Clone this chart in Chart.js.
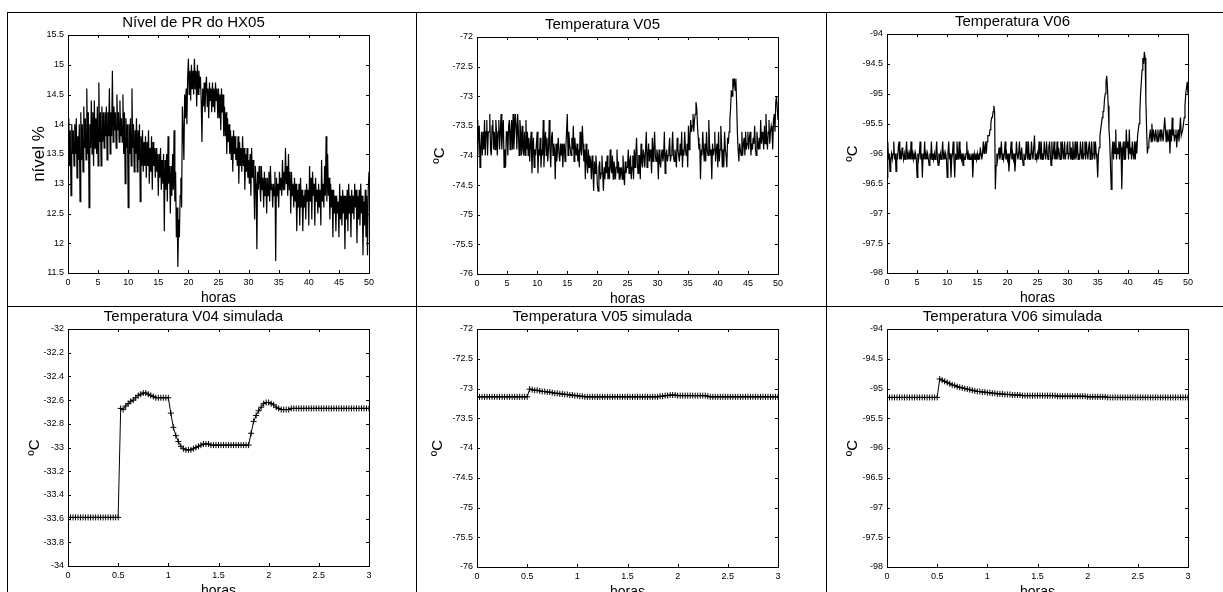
<!DOCTYPE html>
<html>
<head>
<meta charset="utf-8">
<script src="https://cdn.jsdelivr.net/npm/chart.js@4/dist/chart.umd.min.js"></script>
<style>
body { margin: 0; background: #fff; width: 1223px; height: 592px; overflow: hidden; position: relative; }
canvas { position: absolute; }
.hl { position: absolute; height: 1px; background: #000; }
.vl { position: absolute; width: 1px; background: #000; }
</style>
</head>
<body>
<div class="hl" style="left:7px;top:12px;width:1216px"></div>
<div class="hl" style="left:7px;top:306px;width:1216px"></div>
<div class="vl" style="left:7px;top:12px;height:580px"></div>
<div class="vl" style="left:416px;top:12px;height:580px"></div>
<div class="vl" style="left:826px;top:12px;height:580px"></div>
<canvas id="c1"></canvas>
<canvas id="c2"></canvas>
<canvas id="c3"></canvas>
<canvas id="c4"></canvas>
<canvas id="c5"></canvas>
<canvas id="c6"></canvas>
<script>
// medidos: amostra a cada 0.125 h (0..50 h), uma linha por hora
const nivelPR = [
  13.6,14.1,13.3,13.9,12.8,14.0,13.5,13.9,
  13.3,14.0,13.5,14.1,13.1,13.8,13.4,14.0,
  12.7,14.2,13.4,14.0,13.2,14.3,13.6,14.1,
  13.4,14.6,13.5,14.2,12.6,14.0,13.6,14.4,
  13.5,14.2,13.3,14.4,13.6,14.1,13.5,14.3,
  13.3,14.7,13.7,14.2,13.3,14.3,13.7,14.2,
  13.6,14.2,13.8,14.3,13.4,14.2,13.8,14.6,
  13.5,14.2,13.8,14.9,13.7,14.3,13.9,14.2,
  13.6,14.5,13.9,14.2,13.7,14.4,13.8,14.1,
  13.7,14.5,13.5,14.2,13.0,14.1,13.6,14.0,
  12.6,14.0,13.5,14.1,13.3,14.6,13.6,14.0,
  13.2,13.9,13.5,14.1,13.2,13.9,13.4,14.0,
  12.7,13.8,13.3,13.9,13.2,13.7,13.3,13.8,
  13.1,13.7,13.3,13.9,13.0,13.6,13.2,13.8,
  12.9,13.7,13.3,13.6,13.1,13.6,13.2,13.5,
  12.8,13.5,13.1,13.6,12.9,13.4,13.0,13.5,
  12.2,13.4,12.9,13.5,12.7,13.8,13.0,13.3,
  12.5,13.3,12.8,13.5,12.9,13.9,12.7,13.2,
  12.1,12.6,11.6,12.4,12.1,12.8,13.1,12.6,
  14.3,13.9,13.4,14.5,14.1,14.6,14.0,14.8,
  15.1,14.5,14.9,14.4,15.0,14.6,14.9,14.5,
  15.1,14.6,14.9,14.3,15.0,14.5,14.9,14.6,
  14.8,14.4,13.7,14.6,14.3,14.7,14.2,14.6,
  14.8,14.3,14.6,14.1,14.7,14.4,14.6,14.2,
  14.7,14.3,14.6,14.2,14.7,14.4,14.6,14.1,
  14.6,14.1,14.5,13.9,14.6,14.2,14.5,13.8,
  14.3,13.8,14.2,13.5,14.1,13.7,14.0,13.5,
  13.9,13.4,13.8,13.2,13.9,13.5,13.8,13.4,
  13.6,13.3,13.8,13.0,13.7,13.3,13.6,13.2,
  13.8,13.3,13.6,12.9,13.5,13.2,13.6,13.1,
  13.4,13.0,13.5,12.8,13.6,13.1,13.4,13.0,
  12.4,13.3,13.0,11.9,13.2,12.9,13.3,13.0,
  12.7,13.3,12.9,13.1,12.6,13.2,12.8,13.1,
  12.5,13.1,12.8,13.2,12.7,13.3,12.9,13.0,
  12.6,13.0,12.8,13.2,11.7,13.1,12.8,13.0,
  12.6,13.2,12.9,13.1,12.8,13.4,12.9,13.2,
  12.9,13.6,13.0,13.3,12.8,13.5,12.9,13.2,
  12.5,13.2,12.8,13.0,12.6,13.1,12.7,13.0,
  12.2,12.9,12.6,13.0,12.3,13.1,12.6,12.9,
  12.2,12.8,12.6,12.9,12.4,13.0,12.7,12.9,
  12.3,13.3,12.7,13.1,12.4,13.2,12.8,13.0,
  12.3,13.1,12.7,12.9,12.5,13.0,12.6,12.9,
  12.3,13.4,12.7,13.0,12.6,13.3,12.8,13.8,
  12.7,13.5,12.8,13.1,12.4,13.0,12.6,12.9,
  12.1,12.9,12.5,12.8,12.2,12.8,12.5,12.7,
  12.1,13.0,12.4,12.8,12.3,12.9,12.5,12.8,
  11.9,12.8,12.4,12.9,12.2,13.0,12.5,12.8,
  12.1,12.9,12.5,12.8,12.4,13.0,12.6,12.9,
  12.0,12.8,12.4,12.9,12.3,13.0,12.5,12.8,
  11.8,12.7,12.3,12.9,12.1,12.8,11.8,12.9,
  13.2];

const tempV05 = [
  -73.4,-74.0,-73.6,-73.5,-74.2,-73.9,-73.6,-74.0,
  -73.6,-73.9,-73.4,-74.0,-73.6,-73.4,-74.0,-73.6,
  -73.6,-73.3,-73.9,-74.0,-73.5,-73.4,-73.9,-73.6,
  -73.9,-73.4,-73.6,-74.0,-73.6,-73.4,-73.9,-73.6,
  -73.3,-73.9,-73.6,-73.4,-74.2,-73.9,-74.2,-73.6,
  -73.6,-74.0,-73.5,-73.4,-73.9,-73.6,-73.4,-73.9,
  -73.3,-73.9,-73.6,-73.3,-73.5,-73.9,-73.3,-73.6,
  -74.0,-73.4,-73.6,-74.0,-73.5,-73.9,-74.0,-73.6,
  -74.0,-73.4,-73.9,-73.6,-74.0,-73.7,-74.1,-73.8,
  -73.6,-74.3,-73.9,-73.7,-74.2,-73.9,-74.0,-73.8,
  -73.6,-74.3,-73.9,-74.0,-73.7,-74.2,-73.9,-74.0,
  -73.4,-74.2,-73.8,-73.6,-74.0,-73.7,-74.1,-73.9,
  -73.4,-73.9,-74.2,-73.7,-73.6,-74.0,-73.8,-73.9,
  -74.4,-73.8,-74.1,-73.9,-73.7,-74.0,-74.1,-73.8,
  -74.0,-73.8,-74.2,-73.9,-73.8,-74.1,-73.9,-73.6,
  -73.3,-74.0,-73.6,-73.8,-73.9,-74.0,-73.7,-73.9,
  -73.5,-74.1,-73.7,-73.9,-74.0,-73.8,-74.1,-73.9,
  -74.2,-73.6,-73.9,-74.0,-73.5,-73.8,-74.1,-73.9,
  -74.4,-73.8,-74.1,-74.3,-73.9,-74.2,-74.0,-74.1,
  -74.4,-74.0,-74.2,-74.6,-74.1,-74.3,-74.0,-74.2,
  -74.5,-74.6,-74.2,-74.1,-74.4,-74.3,-74.0,-74.3,
  -74.6,-74.2,-74.4,-74.1,-74.3,-74.0,-74.4,-74.2,
  -74.4,-73.9,-74.2,-74.3,-74.0,-74.4,-74.1,-74.2,
  -74.4,-74.2,-73.9,-74.3,-74.1,-74.4,-74.2,-74.3,
  -74.2,-74.4,-74.0,-74.3,-74.5,-74.1,-74.3,-74.2,
  -74.2,-73.9,-74.3,-74.1,-74.0,-74.4,-74.2,-74.0,
  -74.4,-73.9,-74.2,-74.0,-73.7,-74.1,-74.3,-74.0,
  -74.0,-74.4,-73.8,-74.1,-74.2,-73.9,-74.0,-74.2,
  -73.9,-73.6,-74.2,-74.0,-73.8,-74.1,-73.9,-74.0,
  -74.3,-73.7,-74.1,-73.9,-73.6,-74.0,-74.1,-73.9,
  -74.0,-74.4,-73.9,-74.1,-74.2,-74.0,-73.9,-74.1,
  -74.0,-73.6,-74.3,-74.0,-73.9,-74.1,-74.0,-73.9,
  -73.7,-74.1,-74.0,-73.9,-73.6,-74.0,-74.1,-73.9,
  -74.0,-74.2,-73.7,-73.9,-74.0,-74.1,-73.8,-74.0,
  -73.6,-74.2,-73.9,-74.0,-73.6,-73.9,-74.0,-73.8,
  -74.2,-73.5,-73.9,-73.7,-73.4,-73.6,-73.5,-73.3,
  -73.6,-73.4,-73.3,-73.1,-73.2,-73.5,-73.7,-73.9,
  -73.8,-74.4,-73.9,-74.0,-73.6,-73.9,-74.1,-73.8,
  -74.1,-73.6,-73.9,-74.0,-73.4,-73.8,-74.0,-73.9,
  -74.4,-73.8,-74.0,-73.9,-73.6,-74.1,-73.9,-73.8,
  -74.2,-73.6,-74.1,-73.9,-73.5,-73.8,-74.2,-73.9,
  -74.2,-73.6,-73.9,-74.0,-74.2,-73.7,-73.8,-73.6,
  -73.4,-73.2,-72.9,-73.0,-72.7,-72.8,-72.7,-72.9,
  -72.7,-73.1,-73.6,-73.9,-74.1,-73.8,-73.9,-74.0,
  -73.6,-74.0,-73.8,-73.7,-74.0,-73.6,-73.9,-73.8,
  -73.6,-73.9,-73.7,-73.6,-74.0,-73.8,-73.9,-73.7,
  -73.8,-73.5,-73.9,-74.0,-73.6,-73.8,-73.9,-73.7,
  -73.9,-73.4,-73.8,-73.6,-73.7,-73.9,-73.5,-73.8,
  -73.3,-73.7,-73.9,-73.6,-73.4,-73.8,-73.6,-73.5,
  -73.6,-73.9,-73.4,-73.3,-73.6,-73.1,-73.0,-73.2,
  -73.4];

const tempV06 = [
  -96.4,-95.8,-96.1,-96.0,-96.3,-96.1,-96.0,-96.1,
  -96.0,-95.8,-96.1,-96.0,-96.3,-96.0,-96.1,-95.9,
  -95.8,-96.1,-96.0,-96.1,-95.9,-96.0,-96.1,-96.0,
  -96.1,-96.0,-95.8,-96.1,-96.0,-96.1,-96.0,-96.1,
  -95.8,-96.1,-96.0,-96.1,-96.0,-96.1,-96.0,-96.1,
  -96.4,-96.0,-96.1,-96.0,-95.8,-96.1,-96.0,-96.4,
  -96.0,-96.1,-95.8,-96.1,-96.0,-96.1,-96.0,-96.1,
  -96.2,-96.0,-96.1,-95.8,-96.1,-96.0,-96.1,-96.0,
  -96.1,-96.0,-95.8,-96.1,-96.2,-96.0,-96.1,-96.0,
  -96.1,-96.0,-95.8,-96.1,-96.0,-96.1,-96.0,-96.1,
  -96.4,-96.0,-95.8,-96.1,-96.0,-96.4,-96.1,-96.0,
  -95.8,-96.1,-96.4,-96.0,-96.1,-95.8,-96.0,-96.1,
  -95.8,-96.1,-96.0,-96.1,-96.0,-96.2,-96.0,-96.1,
  -96.1,-96.0,-95.8,-96.1,-96.0,-96.1,-96.0,-96.1,
  -96.1,-96.0,-96.4,-96.1,-96.0,-96.1,-96.0,-96.1,
  -96.0,-96.1,-96.0,-96.1,-95.9,-96.0,-96.1,-96.0,
  -95.8,-96.0,-95.9,-95.8,-96.0,-95.8,-95.7,-95.7,
  -95.7,-95.6,-95.5,-95.4,-95.4,-95.3,-95.2,-95.3,
  -96.6,-96.2,-96.0,-96.1,-96.0,-95.9,-96.1,-96.0,
  -95.8,-96.1,-96.0,-96.1,-96.0,-95.8,-96.1,-96.0,
  -96.1,-96.0,-96.3,-96.1,-96.0,-95.8,-96.1,-96.0,
  -96.1,-96.0,-96.3,-96.1,-95.8,-96.0,-96.1,-96.0,
  -95.8,-96.1,-96.0,-95.9,-96.1,-96.2,-96.0,-96.1,
  -96.1,-95.8,-96.0,-96.1,-95.8,-96.1,-96.0,-96.1,
  -95.8,-96.0,-96.1,-95.9,-95.7,-96.1,-96.0,-96.1,
  -96.0,-96.1,-95.8,-96.0,-96.1,-95.8,-96.1,-96.0,
  -96.1,-95.8,-96.0,-96.1,-95.8,-96.0,-96.1,-95.9,
  -95.8,-96.0,-96.2,-95.8,-96.1,-96.0,-95.8,-96.1,
  -96.0,-96.1,-95.8,-96.1,-95.9,-96.0,-96.1,-95.8,
  -96.1,-95.8,-96.0,-96.1,-95.8,-96.1,-96.0,-95.9,
  -95.8,-96.1,-96.0,-95.8,-96.1,-95.9,-96.1,-95.8,
  -96.0,-96.1,-95.8,-96.1,-96.0,-95.8,-96.1,-96.0,
  -96.1,-95.8,-96.0,-96.1,-95.8,-96.1,-96.0,-95.8,
  -96.1,-95.8,-96.0,-96.1,-95.9,-95.8,-96.1,-96.0,
  -95.8,-96.1,-96.0,-95.8,-96.1,-95.8,-96.0,-96.1,
  -96.4,-96.0,-95.9,-95.7,-95.6,-95.5,-95.4,-95.3,
  -95.3,-95.1,-95.0,-94.8,-94.7,-94.9,-95.2,-95.6,
  -95.8,-96.2,-96.6,-96.0,-95.8,-96.1,-95.8,-96.0,
  -95.6,-96.1,-95.9,-96.0,-95.8,-96.1,-95.8,-95.9,
  -96.6,-96.0,-95.8,-96.1,-95.8,-96.1,-95.6,-95.9,
  -95.8,-96.1,-95.6,-96.0,-95.9,-96.1,-95.8,-96.0,
  -96.1,-95.8,-96.1,-95.8,-96.0,-95.7,-95.6,-95.5,
  -95.3,-95.0,-94.8,-94.6,-94.4,-94.5,-94.3,-94.4,
  -95.1,-95.6,-96.0,-95.9,-95.8,-95.7,-95.6,-95.8,
  -95.5,-95.8,-95.6,-95.7,-95.8,-95.6,-95.7,-95.8,
  -95.6,-95.8,-95.7,-95.6,-95.8,-95.6,-95.7,-95.8,
  -95.8,-95.4,-95.6,-95.8,-95.6,-95.7,-95.8,-95.6,
  -96.0,-95.6,-95.8,-95.4,-95.7,-95.6,-95.8,-95.7,
  -95.6,-95.9,-95.7,-95.6,-95.8,-95.6,-95.4,-95.7,
  -95.7,-95.6,-95.5,-95.4,-95.2,-95.0,-94.9,-94.8,
  -95.0];

// simulados: amostra a cada 0.025 h (0..3 h)
const simV04 = [-33.59,-33.59,-33.59,-33.59,-33.59,-33.59,-33.59,-33.59,-33.59,-33.59,-33.59,-33.59,-33.59,-33.59,-33.59,-33.59,-33.59,-33.59,-33.59,-33.59,-33.59,
  -32.67,-32.68,-32.65,-32.63,-32.61,-32.6,-32.58,-32.56,-32.55,-32.54,-32.54,-32.55,-32.56,-32.57,-32.58,-32.58,-32.58,-32.58,-32.58,-32.58,
  -32.71,-32.83,-32.9,-32.95,-32.99,-33.01,-33.02,-33.02,-33.02,-33.01,-33.0,-32.99,-32.98,-32.97,-32.97,-32.97,-32.98,-32.98,
  -32.98,-32.98,-32.98,-32.98,-32.98,-32.98,-32.98,-32.98,-32.98,-32.98,-32.98,-32.98,-32.98,-32.98,
  -32.88,-32.78,-32.73,-32.69,-32.66,-32.63,-32.62,-32.62,-32.63,-32.64,-32.66,-32.67,-32.68,-32.68,-32.68,-32.68,-32.67,
  -32.67,-32.67,-32.67,-32.67,-32.67,-32.67,-32.67,-32.67,-32.67,-32.67,-32.67,-32.67,-32.67,-32.67,-32.67,-32.67,
  -32.67,-32.67,-32.67,-32.67,-32.67,-32.67,-32.67,-32.67,-32.67,-32.67,-32.67,-32.67,-32.67,-32.67,-32.67];

const simV05 = [-73.14,-73.14,-73.14,-73.14,-73.14,-73.14,-73.14,-73.14,-73.14,-73.14,-73.14,-73.14,-73.14,-73.14,-73.14,-73.14,-73.14,-73.14,-73.14,-73.14,-73.14,
  -73.01,-73.02,-73.03,-73.03,-73.04,-73.05,-73.05,-73.06,-73.06,-73.07,-73.08,-73.08,-73.09,-73.09,-73.10,-73.10,-73.11,-73.11,-73.12,-73.12,-73.13,-73.13,-73.14,
  -73.14,-73.14,-73.14,-73.14,-73.14,-73.14,-73.14,-73.14,-73.14,-73.14,-73.14,-73.14,-73.14,-73.14,-73.14,
  -73.14,-73.14,-73.14,-73.14,-73.14,-73.14,-73.14,-73.14,-73.14,-73.14,-73.14,-73.14,-73.14,-73.14,
  -73.13,-73.13,-73.12,-73.12,-73.11,-73.11,-73.11,-73.12,-73.12,-73.12,
  -73.12,-73.12,-73.12,-73.12,-73.12,-73.12,-73.12,-73.12,-73.12,-73.13,
  -73.14,-73.14,-73.14,-73.14,-73.14,-73.14,-73.14,-73.14,-73.14,-73.14,-73.14,-73.14,-73.14,-73.14,
  -73.14,-73.14,-73.14,-73.14,-73.14,-73.14,-73.14,-73.14,-73.14,-73.14,-73.14,-73.14,-73.14,-73.14];

const simV06 = [-95.15,-95.15,-95.15,-95.15,-95.15,-95.15,-95.15,-95.15,-95.15,-95.15,-95.15,-95.15,-95.15,-95.15,-95.15,-95.15,-95.15,-95.15,-95.15,-95.15,-95.15,
  -94.84,-94.86,-94.88,-94.9,-94.92,-94.94,-94.95,-94.97,-94.98,-94.99,-95.0,-95.01,-95.02,-95.03,-95.04,-95.05,-95.05,-95.06,-95.06,-95.07,
  -95.07,-95.08,-95.08,-95.09,-95.09,-95.09,-95.10,-95.10,
  -95.10,-95.11,-95.11,-95.11,-95.11,-95.12,-95.12,
  -95.12,-95.12,-95.12,-95.12,-95.12,-95.12,-95.12,-95.12,-95.12,-95.12,-95.12,-95.12,
  -95.13,-95.13,-95.13,-95.13,-95.13,-95.13,-95.13,-95.13,-95.13,-95.13,-95.13,-95.13,
  -95.14,-95.14,-95.14,-95.14,-95.14,-95.14,-95.14,-95.14,
  -95.15,-95.15,-95.15,-95.15,-95.15,-95.15,-95.15,-95.15,-95.15,-95.15,-95.15,-95.15,-95.15,-95.15,-95.15,-95.15,-95.15,
  -95.15,-95.15,-95.15,-95.15,-95.15,-95.15,-95.15,-95.15,-95.15,-95.15,-95.15,-95.15,-95.15,-95.15,-95.15,-95.15];

Chart.defaults.font.family = '"Liberation Sans", Arial, sans-serif';
Chart.defaults.color = '#000';

// caixa fechada + marcas para dentro (estilo matlab)
const boxPlugin = {
  id: 'box',
  afterDraw(chart) {
    const { ctx, chartArea: a, scales } = chart;
    ctx.save();
    ctx.strokeStyle = '#000';
    ctx.lineWidth = 1;
    ctx.strokeRect(a.left + 0.5, a.top + 0.5, a.right - a.left, a.bottom - a.top);
    ctx.beginPath();
    scales.x.ticks.forEach(t => {
      const px = Math.round(scales.x.getPixelForValue(t.value)) + 0.5;
      ctx.moveTo(px, a.bottom); ctx.lineTo(px, a.bottom - 3);
      ctx.moveTo(px, a.top); ctx.lineTo(px, a.top + 3);
    });
    scales.y.ticks.forEach(t => {
      const py = Math.round(scales.y.getPixelForValue(t.value)) + 0.5;
      ctx.moveTo(a.left, py); ctx.lineTo(a.left + 3, py);
      ctx.moveTo(a.right, py); ctx.lineTo(a.right - 3, py);
    });
    ctx.stroke();
    ctx.restore();
  }
};

const panels = [
  { id: 'c1', title: 'Nível de PR do HX05', ytitle: 'nível %', ysize: 17, vals: nivelPR, dt: 0.125, xmax: 50, xstep: 5, ymin: 11.5, ymax: 15.5, ystep: 0.5, box: [68, 35, 369, 273], yoff: 29, marks: false },
  { id: 'c2', title: 'Temperatura V05', ytitle: 'ºC', ysize: 15, vals: tempV05, dt: 0.125, xmax: 50, xstep: 5, ymin: -76, ymax: -72, ystep: 0.5, box: [477, 37, 778, 274], yoff: 37, marks: false },
  { id: 'c3', title: 'Temperatura V06', ytitle: 'ºC', ysize: 15, vals: tempV06, dt: 0.125, xmax: 50, xstep: 5, ymin: -98, ymax: -94, ystep: 0.5, box: [887, 34, 1188, 273], yoff: 34, marks: false },
  { id: 'c4', title: 'Temperatura V04 simulada', ytitle: 'ºC', ysize: 15, vals: simV04, dt: 0.025, xmax: 3, xstep: 0.5, ymin: -34, ymax: -32, ystep: 0.2, box: [68, 329, 369, 566], yoff: 33, marks: true },
  { id: 'c5', title: 'Temperatura V05 simulada', ytitle: 'ºC', ysize: 15, vals: simV05, dt: 0.025, xmax: 3, xstep: 0.5, ymin: -76, ymax: -72, ystep: 0.5, box: [477, 329, 778, 567], yoff: 39, marks: true },
  { id: 'c6', title: 'Temperatura V06 simulada', ytitle: 'ºC', ysize: 15, vals: simV06, dt: 0.025, xmax: 3, xstep: 0.5, ymin: -98, ymax: -94, ystep: 0.5, box: [887, 329, 1188, 567], yoff: 34, marks: true }
];

const YW = 50, TOP = 23, XH = 34, RP = 12;
const fmt = v => String(Math.round(v * 100) / 100);

panels.forEach(p => {
  const [l, t, r, b] = p.box;
  const cv = document.getElementById(p.id);
  cv.width = (r - l) + YW + RP;
  cv.height = (b - t) + TOP + XH;
  cv.style.left = (l - YW) + 'px';
  cv.style.top = (t - TOP) + 'px';

  new Chart(cv, {
    type: 'line',
    data: {
      datasets: [{
        data: p.vals.map((v, i) => ({ x: i * p.dt, y: v })),
        borderColor: '#000',
        borderWidth: p.marks ? 1 : 1.2,
        tension: 0,
        pointRadius: p.marks ? 3 : 0,
        pointStyle: 'cross',
        pointBorderColor: '#000',
        pointBorderWidth: 1
      }]
    },
    options: {
      responsive: false,
      animation: false,
      devicePixelRatio: 1,
      layout: { autoPadding: false, padding: { left: 0, right: RP, top: 0, bottom: 0 } },
      plugins: {
        legend: { display: false },
        tooltip: { enabled: false },
        title: { display: true, text: p.title, font: { size: 15, weight: 'normal', lineHeight: 1.2 }, padding: { top: 2, bottom: 3 } }
      },
      scales: {
        x: {
          type: 'linear', min: 0, max: p.xmax,
          grid: { display: false, drawTicks: false },
          border: { display: false },
          ticks: { stepSize: p.xstep, font: { size: 9 }, padding: 4, maxRotation: 0, autoSkip: false, callback: fmt },
          title: { display: true, text: 'horas', font: { size: 14, lineHeight: 1.2 }, padding: { top: 0, bottom: 0 } },
          afterFit: s => { s.height = XH; }
        },
        y: {
          min: p.ymin, max: p.ymax,
          grid: { display: false, drawTicks: false },
          border: { display: false },
          ticks: { stepSize: p.ystep, font: { size: 9 }, padding: 4, autoSkip: false, callback: fmt },
          title: { display: true, text: p.ytitle, font: { size: p.ysize, lineHeight: 1.2 }, padding: { top: YW - p.ysize * 0.6 - p.yoff, bottom: 0 } },
          afterFit: s => { s.width = YW; }
        }
      }
    },
    plugins: [boxPlugin]
  });
});
</script>
</body>
</html>
